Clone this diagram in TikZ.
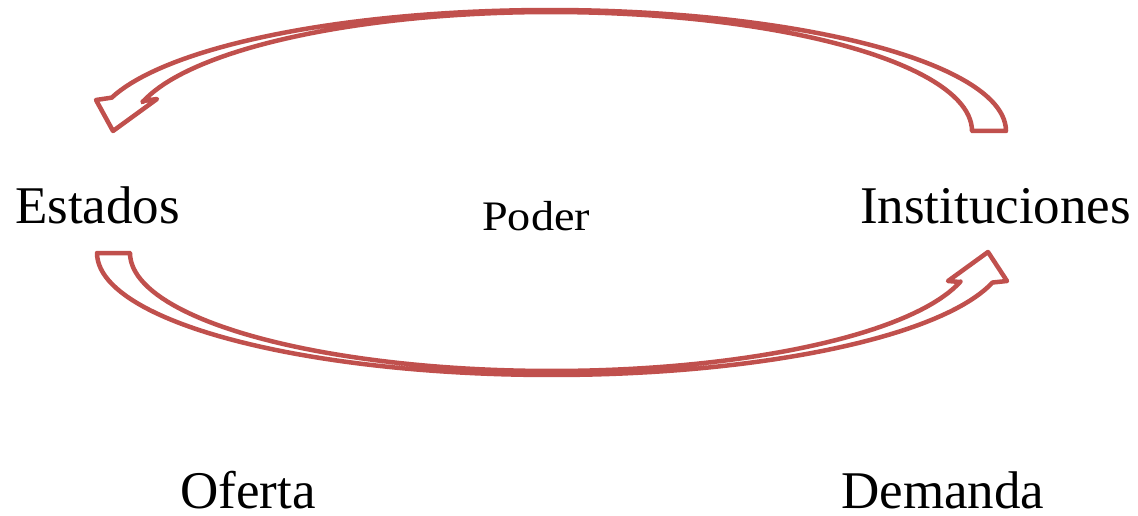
\documentclass[tikz,border=0pt]{standalone}
\usepackage{fontspec}
\setmainfont{Liberation Serif}
\definecolor{arr}{HTML}{C0504D}
\begin{document}
\begin{tikzpicture}[x=1pt,y=-1pt,
  blockarrow/.style={draw=arr, line width=4.5pt, line join=round, fill=white},
  lbl/.style={inner sep=0pt, anchor=base west, font=\fontsize{53}{60}\selectfont}]
\useasboundingbox (0,0) rectangle (1138,516);
% top curved arrow (Instituciones -> Estados)
\draw[blockarrow] (972,131) -- (1006,131)
  -- plot[domain=0:164, samples=90] ({550+456*cos(\x)},{131-121*sin(\x)})
  -- (96,100) -- (113,131) -- (157,99) -- (143,101)
  -- plot[domain=166:0, samples=90] ({551+421*cos(\x)},{131-119*sin(\x)}) -- cycle;
% bottom curved arrow (Estados -> Instituciones)
\draw[blockarrow] (130,253) -- (97,253)
  -- plot[domain=180:14, samples=90] ({551.5+454.5*cos(\x)},{253+122*sin(\x)})
  -- (1007,281) -- (988,252) -- (948,281) -- (960,282)
  -- plot[domain=14:180, samples=90] ({551.5+421.5*cos(\x)},{253+118*sin(\x)}) -- cycle;
% labels
\node[lbl] (estados) at (15,223) {Estados};
\node[lbl] (inst) at (860,223) {Instituciones};
\node[lbl, font=\fontsize{42}{48}\selectfont, xscale=1.1] (poder) at (482,230) {Poder};
\node[lbl] (oferta) at (180,508) {Oferta};
\node[lbl] (demanda) at (841,508) {Demanda};
\end{tikzpicture}
\end{document}
